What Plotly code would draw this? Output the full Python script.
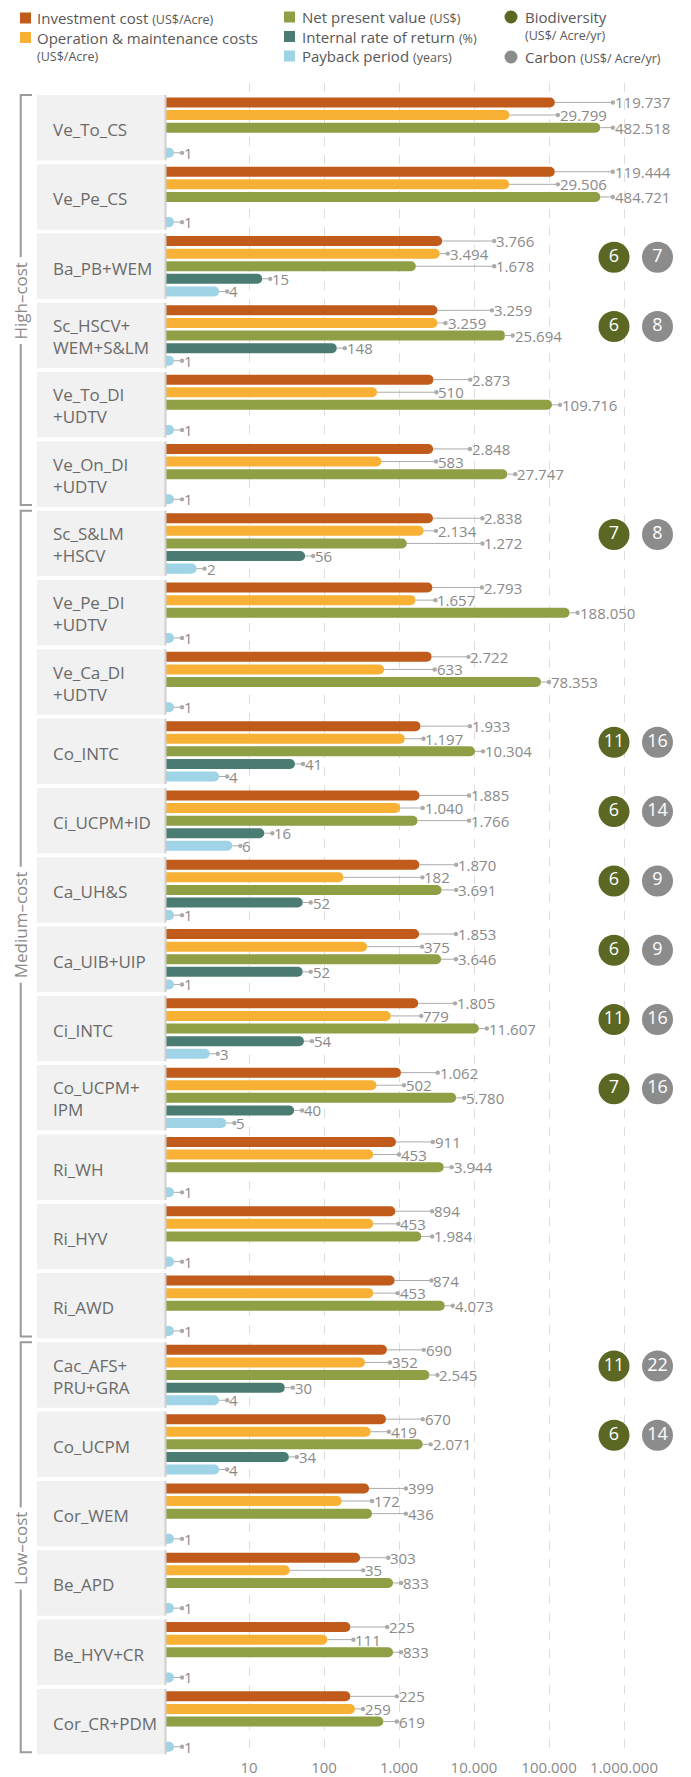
import math
import plotly.graph_objects as go

W, H = 691, 1777

# ---------------- data ----------------
rows = ["Ve_To_CS", "Ve_Pe_CS", "Ba_PB+WEM", "Sc_HSCV+\nWEM+S&amp;LM", "Ve_To_DI\n+UDTV",
        "Ve_On_DI\n+UDTV", "Sc_S&amp;LM\n+HSCV", "Ve_Pe_DI\n+UDTV", "Ve_Ca_DI\n+UDTV", "Co_INTC",
        "Ci_UCPM+ID", "Ca_UH&amp;S", "Ca_UIB+UIP", "Ci_INTC", "Co_UCPM+\nIPM", "Ri_WH", "Ri_HYV",
        "Ri_AWD", "Cac_AFS+\nPRU+GRA", "Co_UCPM", "Cor_WEM", "Be_APD", "Be_HYV+CR", "Cor_CR+PDM"]
investment = [119737, 119444, 3766, 3259, 2873, 2848, 2838, 2793, 2722, 1933, 1885, 1870,
              1853, 1805, 1062, 911, 894, 874, 690, 670, 399, 303, 225, 225]
om_cost = [29799, 29506, 3494, 3259, 510, 583, 2134, 1657, 633, 1197, 1040, 182,
           375, 779, 502, 453, 453, 453, 352, 419, 172, 35, 111, 259]
npv = [482518, 484721, 1678, 25694, 109716, 27747, 1272, 188050, 78353, 10304, 1766, 3691,
       3646, 11607, 5780, 3944, 1984, 4073, 2545, 2071, 436, 833, 833, 619]
irr = [None, None, 15, 148, None, None, 56, None, None, 41, 16, 52,
       52, 54, 40, None, None, None, 30, 34, None, None, None, None]
payback = [1, 1, 4, 1, 1, 1, 2, 1, 1, 4, 6, 1, 1, 3, 5, 1, 1, 1, 4, 4, 1, 1, 1, 1]
biodiversity = [None, None, 6, 6, None, None, 7, None, None, 11, 6, 6,
                6, 11, 7, None, None, None, 11, 6, None, None, None, None]
carbon = [None, None, 7, 8, None, None, 8, None, None, 16, 14, 9,
          9, 16, 16, None, None, None, 22, 14, None, None, None, None]
groups = [("High–cost", 0, 5), ("Medium–cost", 6, 17), ("Low–cost", 18, 23)]
tick_values = [10, 100, 1000, 10000, 100000, 1000000]

series = [
    ("Investment cost", investment, "#c05b1b"),
    ("Operation & maintenance costs", om_cost, "#f8b134"),
    ("Net present value", npv, "#8f9f45"),
    ("Internal rate of return", irr, "#4a7c73"),
    ("Payback period", payback, "#9fd4e7"),
]
BIO_COLOR = "#5b6823"
CARBON_COLOR = "#8c8c8c"

# ---------------- geometry (pixels) ----------------
PLOT_L, PLOT_R = 166, 691
PLOT_T, PLOT_B = 83, 1757
XR = [-0.107, 6.893]
PPD = (PLOT_R - PLOT_L) / (XR[1] - XR[0])
n = len(rows)
ROW_PX = 69.3
Y_TOP = -0.644
Y_BOT = Y_TOP + (PLOT_B - PLOT_T) / ROW_PX
SLOT = 12.6 / ROW_PX
BOX_HALF = 32.75 / ROW_PX


def px(x):
    return x / W


def py(y):
    return 1 - y / H


def bar_end(v):
    return PLOT_L + (math.log10(v) - XR[0]) * PPD


def fmt(v):
    return f"{v:,}".replace(",", ".")


def text_w(s):
    return sum(4.0 if c == "." else 8.6 for c in s) + 3


ypos = list(range(n))

fig = go.Figure()
for name, vals, col in series:
    fig.add_trace(go.Bar(
        y=ypos, x=vals, orientation="h", name=name,
        marker=dict(color=col, cornerradius=5, line=dict(width=0)),
        showlegend=False, hoverinfo="x",
    ))

# circles: biodiversity / carbon
bio_y = [i - 0.13 for i, v in enumerate(biodiversity) if v is not None]
bio_v = [v for v in biodiversity if v is not None]
car_y = [i - 0.13 for i, v in enumerate(carbon) if v is not None]
car_v = [v for v in carbon if v is not None]
BIO_X, CAR_X = (614 - PLOT_L) / (PLOT_R - PLOT_L), (657.5 - PLOT_L) / (PLOT_R - PLOT_L)
fig.add_trace(go.Scatter(
    x=[BIO_X] * len(bio_v), y=bio_y, xaxis="x2", mode="markers+text",
    marker=dict(size=31, color=BIO_COLOR, line=dict(width=0)),
    text=[str(v) for v in bio_v], textposition="middle center",
    textfont=dict(color="white", size=18, family="Open Sans"), showlegend=False, hoverinfo="skip"))
fig.add_trace(go.Scatter(
    x=[CAR_X] * len(car_v), y=car_y, xaxis="x2", mode="markers+text",
    marker=dict(size=31, color=CARBON_COLOR, line=dict(width=0)),
    text=[str(v) for v in car_v], textposition="middle center",
    textfont=dict(color="white", size=18, family="Open Sans"), showlegend=False, hoverinfo="skip"))

shapes = []
annotations = []

# row boxes + labels
for i, lab in enumerate(rows):
    shapes.append(dict(type="rect", xref="paper", yref="y", x0=px(37), x1=px(165),
                       y0=i - BOX_HALF, y1=i + BOX_HALF, fillcolor="#f1f1f1",
                       line=dict(width=0), layer="below"))
    shapes.append(dict(type="line", xref="paper", yref="y", x0=px(165.5), x1=px(165.5),
                       y0=i - BOX_HALF, y1=i + BOX_HALF, line=dict(color="#cfcfcf", width=2)))
    lines = lab.split("\n")
    annotations.append(dict(xref="paper", yref="y", x=px(51), y=i,
                            yshift=-2 if len(lines) == 1 else -1,
                            xanchor="left", yanchor="middle", align="left",
                            text="<br>".join(lines), showarrow=False,
                            font=dict(size=17, color="#6a6a6a")))

# group brackets
for name, a, b in groups:
    yt = a - BOX_HALF
    yb = b + BOX_HALF - 2 / ROW_PX
    shapes.append(dict(type="path", xref="paper", yref="y",
                       path=f"M {px(32)},{yt} L {px(20.7)},{yt} L {px(20.7)},{yb} L {px(32)},{yb}",
                       line=dict(color="#9a9a9a", width=2)))
    annotations.append(dict(xref="paper", yref="y", x=px(20.7), y=(a + b) / 2, text=name,
                            textangle=-90, showarrow=False, bgcolor="white", borderpad=4,
                            xanchor="center", yanchor="middle",
                            font=dict(size=17, color="#8a8a8a")))


# value labels with leader lines
def overlap(a0, a1, b0, b1):
    return a0 < b1 and b0 < a1


order = [1, 0, 2, 3, 4]
for i in range(n):
    vals = [s[1][i] for s in series]
    ends = [bar_end(v) if v is not None else None for v in vals]
    placed = {}
    for k in order:
        v = vals[k]
        if v is None:
            continue
        txt = fmt(v)
        w = text_w(txt)
        d = ends[k] + 8
        if k in (1, 2) and ends[k - 1] is not None:
            d = max(d, ends[k - 1] + 3)
        moved = True
        while moved:
            moved = False
            for j in (k - 1, k + 1):
                if j in placed and overlap(d - 3, d + w, placed[j][0] - 3, placed[j][1]):
                    d = placed[j][1] + 5
                    moved = True
        placed[k] = (d, d + w)
        annotations.append(dict(
            x=math.log10(v), y=i + (k - 2) * SLOT, xref="x", yref="y",
            text=txt, showarrow=True, ax=d - ends[k], ay=0, axref="pixel", ayref="pixel",
            xanchor="left", yanchor="middle", arrowside="start", startarrowhead=6,
            startarrowsize=1.1, arrowwidth=1, arrowcolor="#ababab", standoff=0,
            font=dict(size=15, color="#8a8a8a")))

# legend (manual)
SMALL = "<span style='font-size:12.5px'>{}</span>"
leg_sq = [(20, 18, series[0][2]), (20, 37.5, series[1][2]), (284, 17, series[2][2]),
          (284, 36.5, series[3][2]), (284, 56, series[4][2])]
for x0, yc, col in leg_sq:
    shapes.append(dict(type="rect", xref="paper", yref="paper", x0=px(x0), x1=px(x0 + 11),
                       y0=py(yc + 5.5), y1=py(yc - 5.5), fillcolor=col, line=dict(width=0)))
for xc, yc, col in [(511, 17, BIO_COLOR), (511, 57, CARBON_COLOR)]:
    shapes.append(dict(type="circle", xref="paper", yref="paper", x0=px(xc - 6.5), x1=px(xc + 6.5),
                       y0=py(yc + 6.5), y1=py(yc - 6.5), fillcolor=col, line=dict(width=0)))
leg_txt = [
    (35, 18, "Investment cost " + SMALL.format("(US$/Acre)")),
    (35, 37.5, "Operation &amp; maintenance costs"),
    (35, 56, SMALL.format("(US$/Acre)")),
    (300, 17, "Net present value " + SMALL.format("(US$)")),
    (300, 36.5, "Internal rate of return " + SMALL.format("(%)")),
    (300, 56, "Payback period " + SMALL.format("(years)")),
    (523, 17, "Biodiversity"),
    (523, 36, SMALL.format("(US$/ Acre/yr)")),
    (523, 57, "Carbon " + SMALL.format("(US$/ Acre/yr)")),
]
for x0, yc, t in leg_txt:
    annotations.append(dict(xref="paper", yref="paper", x=px(x0), y=py(yc), text=t,
                            xanchor="left", yanchor="middle", showarrow=False,
                            font=dict(size=15, color="#585858")))

fig.update_layout(
    width=W, height=H,
    margin=dict(l=0, r=0, t=0, b=0),
    paper_bgcolor="white", plot_bgcolor="white",
    font=dict(family="Open Sans", color="#888"),
    barmode="group", bargap=0.091, bargroupgap=0.206,
    xaxis=dict(type="log", range=XR, domain=[px(PLOT_L), 1],
               tickvals=tick_values, ticktext=[fmt(v) for v in tick_values],
               showgrid=True, gridcolor="#dedede", griddash="dash", gridwidth=1,
               zeroline=False, showline=False, ticks="", automargin=False,
               tickfont=dict(size=15, color="#8a8a8a")),
    xaxis2=dict(overlaying="x", range=[0, 1], domain=[px(PLOT_L), 1], visible=False,
                anchor="y"),
    yaxis=dict(range=[Y_BOT, Y_TOP], domain=[1 - PLOT_B / H, 1 - PLOT_T / H],
               showgrid=False, showticklabels=False, zeroline=False, showline=False,
               ticks="", automargin=False),
    shapes=shapes, annotations=annotations,
)

fig.write_html("out.html", config={"displayModeBar": False},
               post_script="document.body.style.margin='0';document.body.style.overflow='hidden';")
